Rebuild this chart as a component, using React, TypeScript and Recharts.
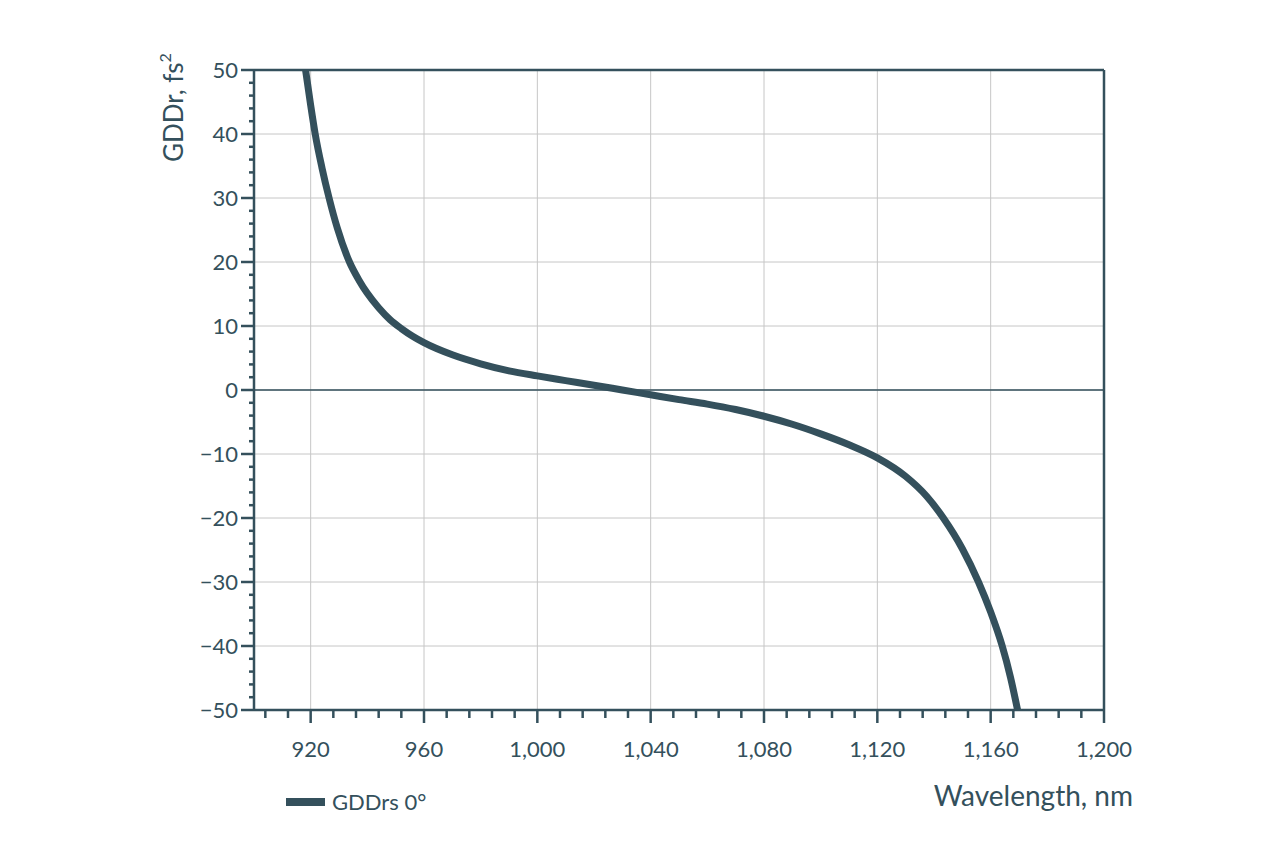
import { LineChart, Line, XAxis, YAxis, CartesianGrid, ReferenceLine, Legend, Label } from "recharts";

// GDDrs at 0° (nm, fs²)
const wavelength = [
  918.2, 920, 921.6, 924, 926.5, 929.4, 933.7, 937, 940, 944, 948, 952, 956, 960, 970, 980, 990,
  1000, 1010, 1020, 1030, 1040, 1050, 1060, 1070, 1080, 1090, 1100, 1110, 1120, 1130, 1137.4,
  1143.3, 1150, 1155.7, 1160, 1164, 1167, 1169.5,
];
const gddrs = [
  50, 44.5, 40, 34.7, 30, 25.3, 20, 17.2, 15.1, 12.85, 11.0, 9.6, 8.4, 7.4, 5.5, 4.1, 3.0,
  2.2, 1.47, 0.75, 0, -0.75, -1.5, -2.2, -3.05, -4.1, -5.35, -6.85, -8.55, -10.6, -13.5, -16.6,
  -20, -24.8, -30, -34.7, -39.9, -44.9, -50,
];

const xMajorTicks = [920, 960, 1000, 1040, 1080, 1120, 1160, 1200];
const xAllTicks = [
  904, 912, 920, 928, 936, 944, 952, 960, 968, 976, 984, 992, 1000, 1008, 1016, 1024, 1032, 1040,
  1048, 1056, 1064, 1072, 1080, 1088, 1096, 1104, 1112, 1120, 1128, 1136, 1144, 1152, 1160, 1168,
  1176, 1184, 1192, 1200,
];
const yMajorTicks = [-50, -40, -30, -20, -10, 0, 10, 20, 30, 40, 50];
const yAllTicks = [
  -50, -48, -46, -44, -42, -40, -38, -36, -34, -32, -30, -28, -26, -24, -22, -20, -18, -16, -14,
  -12, -10, -8, -6, -4, -2, 0, 2, 4, 6, 8, 10, 12, 14, 16, 18, 20, 22, 24, 26, 28, 30, 32, 34, 36,
  38, 40, 42, 44, 46, 48, 50,
];

const INK = "#34505c";
const GRID = "#c6c6c6";
const FONT = "Lato, 'Open Sans', sans-serif";

const data = wavelength.map((w, i) => ({ w, g: gddrs[i] }));

const fmtX = (v: number) => v.toLocaleString("en-US");
const fmtY = (v: number) => (v < 0 ? `\u2212${Math.abs(v)}` : `${v}`);

const XTick = (props: any) => {
  const { x, y, payload } = props;
  const major = xMajorTicks.includes(payload.value);
  return (
    <g>
      <line x1={x} x2={x} y1={y} y2={y + (major ? 13 : 8)} stroke={INK} strokeWidth={2.5} />
      {major && (
        <text x={x} y={y + 47} textAnchor="middle" fill={INK} fontSize={22} fontFamily={FONT}>
          {fmtX(payload.value)}
        </text>
      )}
    </g>
  );
};

const YTick = (props: any) => {
  const { x, y, payload } = props;
  const major = yMajorTicks.includes(payload.value);
  return (
    <g>
      <line x1={x} x2={x - (major ? 13 : 5)} y1={y} y2={y} stroke={INK} strokeWidth={2.5} />
      {major && (
        <text x={x - 16} y={y + 7.5} textAnchor="end" fill={INK} fontSize={22} fontFamily={FONT}>
          {fmtY(payload.value)}
        </text>
      )}
    </g>
  );
};

const LegendBox = () => (
  <div style={{ display: "flex", alignItems: "center", fontFamily: FONT, fontSize: 22, color: INK, lineHeight: "25px" }}>
    <span style={{ display: "inline-block", width: 39, height: 8, background: INK, marginRight: 7 }} />
    GDDrs 0°
  </div>
);

export default function App() {
  return (
    <LineChart width={1256} height={849} data={data} margin={{ top: 62, right: 160, left: 0, bottom: 87 }}>
      <CartesianGrid stroke={GRID} horizontalValues={yMajorTicks} verticalValues={xMajorTicks} />
      <XAxis
        dataKey="w"
        type="number"
        domain={[900, 1200]}
        allowDataOverflow
        ticks={xAllTicks}
        interval={0}
        tickSize={0}
        tickMargin={0}
        tickLine={false}
        tick={<XTick />}
        axisLine={{ stroke: INK, strokeWidth: 2.5 }}
        height={60}
      >
        <Label
          content={(p: any) => (
            <text
              x={p.viewBox.x + p.viewBox.width + 29}
              y={p.viewBox.y + 96}
              textAnchor="end"
              fill={INK}
              fontSize={28}
              fontFamily={FONT}
            >
              Wavelength, nm
            </text>
          )}
        />
      </XAxis>
      <YAxis
        type="number"
        domain={[-50, 50]}
        allowDataOverflow
        ticks={yAllTicks}
        interval={0}
        tickSize={0}
        tickMargin={0}
        tickLine={false}
        tick={<YTick />}
        axisLine={{ stroke: INK, strokeWidth: 2.5 }}
        width={246}
      >
        <Label
          content={(p: any) => {
            const tx = p.viewBox.x + p.viewBox.width - 71;
            const ty = p.viewBox.y + 92;
            return (
              <text
                transform={`translate(${tx},${ty}) rotate(-90)`}
                textAnchor="start"
                fill={INK}
                fontSize={26}
                fontFamily={FONT}
              >
                GDDr, fs
                <tspan dy={-12} fontSize={16}>
                  2
                </tspan>
              </text>
            );
          }}
        />
      </YAxis>
      <ReferenceLine y={0} stroke={INK} strokeWidth={1.5} />
      <ReferenceLine y={50} stroke={INK} strokeWidth={2.5} />
      <ReferenceLine x={1200} stroke={INK} strokeWidth={2.5} />
      <Line
        type="monotone"
        dataKey="g"
        name="GDDrs 0°"
        stroke={INK}
        strokeWidth={7}
        dot={false}
        activeDot={false}
        isAnimationActive={false}
      />
      <Legend
        verticalAlign="middle"
        align="center"
        layout="horizontal"
        wrapperStyle={{ position: "absolute", left: 278, top: 781, width: "auto" }}
        content={() => <LegendBox />}
      />
    </LineChart>
  );
}
